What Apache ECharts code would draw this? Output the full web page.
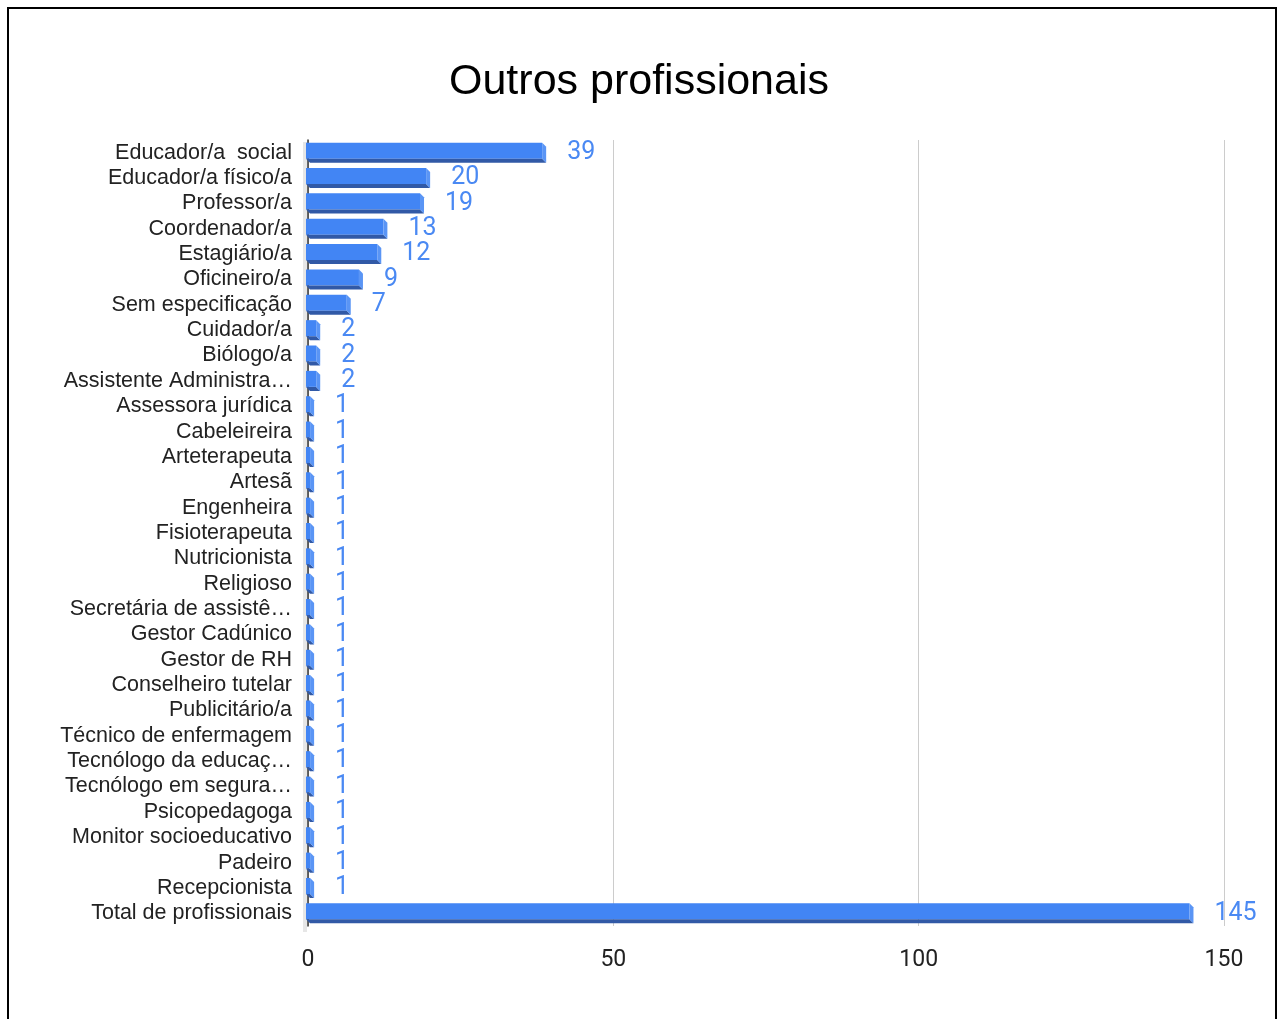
<!DOCTYPE html>
<html><head><meta charset="utf-8">
<script src="https://cdn.jsdelivr.net/npm/echarts@6/dist/echarts.min.js"></script>
<style>html,body{margin:0;padding:0;background:#fff}#c{width:1278px;height:1019px}</style>
</head><body><div id="c"></div>
<script>
const categories = ["Educador/a  social","Educador/a físico/a","Professor/a","Coordenador/a","Estagiário/a","Oficineiro/a","Sem especificação","Cuidador/a","Biólogo/a","Assistente Administra…","Assessora jurídica","Cabeleireira","Arteterapeuta","Artesã","Engenheira","Fisioterapeuta","Nutricionista","Religioso","Secretária de assistê…","Gestor Cadúnico","Gestor de RH","Conselheiro tutelar","Publicitário/a","Técnico de enfermagem","Tecnólogo da educaç…","Tecnólogo em segura…","Psicopedagoga","Monitor socioeducativo","Padeiro","Recepcionista","Total de profissionais"];
const values = [39,20,19,13,12,9,7,2,2,2,1,1,1,1,1,1,1,1,1,1,1,1,1,1,1,1,1,1,1,1,145];
const xTicks = [0,50,100,150];

const chart = echarts.init(document.getElementById('c'));
const F = 'Roboto, Arial, sans-serif';
const A = '"Liberation Sans", Arial, sans-serif';
chart.setOption({
  animation:false,
  title:{text:'Outros profissionais',left:'center',top:56,textStyle:{fontFamily:A,fontSize:43,fontWeight:'normal',color:'#000'}},
  grid:{left:308,width:916,top:140,height:786,containLabel:false},
  xAxis:{type:'value',min:xTicks[0],max:xTicks[xTicks.length-1],interval:50,
    axisLine:{show:false},axisTick:{show:false},
    splitLine:{lineStyle:{color:'#cccccc',width:1}},
    axisLabel:{fontFamily:F,fontSize:23,color:'#222',margin:23}},
  yAxis:{type:'category',data:categories,inverse:true,
    axisLine:{show:true,lineStyle:{color:'#333',width:1.5}},axisTick:{show:false},
    axisLabel:{interval:0,fontFamily:A,fontSize:21.5,color:'#222',margin:16}},
  graphic:[{type:'rect',shape:{x:8,y:8,width:1268,height:1040},style:{fill:'none',stroke:'#000',lineWidth:2},z:100},
           {type:'rect',shape:{x:303,y:142,width:4,height:790},style:{fill:'#e6e6e6'},z:0}],
  series:[{type:'custom',
    data: values.map((v,i)=>[v,i]),
    encode:{x:0,y:1},
    renderItem:function(params,api){
      const v=api.value(0), idx=api.value(1);
      const p0=api.coord([0,idx]), p1=api.coord([v,idx]);
      const bh=api.size([0,1])[1]*0.79;
      const top=p0[1]-bh/2, bot=p0[1]+bh/2, d=4;
      const x0=p0[0]-2, x1=p1[0]-d;
      return {type:'group',children:[
        {type:'rect',shape:{x:x0,y:top,width:x1-x0,height:bh-d},style:{fill:'#4285f4'}},
        {type:'polygon',shape:{points:[[x0,top+bh-d],[x1,top+bh-d],[x1+d,bot],[x0+d,bot]]},style:{fill:'#3159a6'}},
        {type:'polygon',shape:{points:[[x1,top],[x1+d,top+d],[x1+d,bot],[x1,bot-d]]},style:{fill:'#5a95f5'}},
        {type:'text',style:{text:String(v),x:p1[0]+21,y:p0[1],textAlign:'left',textVerticalAlign:'middle',fontFamily:F,fontSize:25,fill:'#4a89f3'}}
      ]};
    }
  }]
});
</script></body></html>
